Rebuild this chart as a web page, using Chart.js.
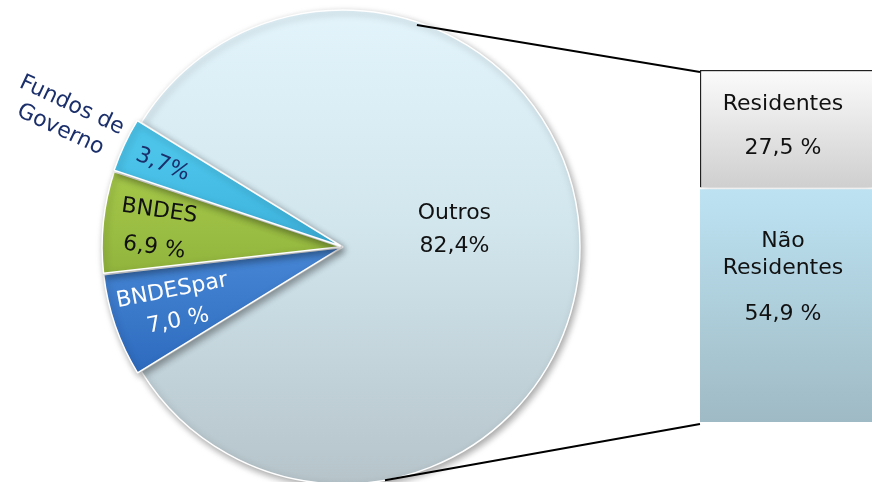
<!DOCTYPE html>
<html>
<head>
<meta charset="utf-8">
<script src="https://cdn.jsdelivr.net/npm/chart.js@4.4.1/dist/chart.umd.min.js"></script>
<style>
  html, body { margin: 0; padding: 0; background: #fff; }
  #wrap { position: relative; width: 872px; height: 482px; overflow: hidden; }
  #wrap canvas { position: absolute; left: 0; top: 0; }
</style>
</head>
<body>
<div id="wrap">
  <canvas id="pie" width="872" height="482"></canvas>
  <canvas id="bar" width="872" height="482"></canvas>
</div>
<script>
// Pie: order is clockwise from the Outros slice, small slices end up on the left.
const pieLabels = ['Outros', 'BNDESpar', 'BNDES', 'Fundos de Governo'];
const pieValues = [82.4, 7.0, 6.9, 3.7];
const pieTexts  = [['Outros', '82,4%'], ['BNDESpar', '7,0 %'], ['BNDES', '6,9 %'], ['3,7%']];
const pieOuterText = ['Fundos de', 'Governo'];

// Breakdown of Outros (stacked bar, bottom first)
const barLabels = ['Não Residentes', 'Residentes'];
const barValues = [54.9, 27.5];
const barTexts  = [['Não', 'Residentes', '54,9 %'], ['Residentes', '27,5 %']];

const FONT = '22px "DejaVu Sans", Verdana, sans-serif';
const PIE_RADIUS = 237;

// colour pairs (light, dark) per slice
const SLICE_COLOURS = [
  ['#e3f4fb', '#b6c4ca'],  // Outros
  ['#5a9ce6', '#2f6cc0'],  // BNDESpar
  ['#a9cc4c', '#7fa232'],  // BNDES
  ['#4cc4ea', '#2a9ccc'],  // Fundos
];
// label placement per slice: fraction of radius, dy, rotation (deg), colour, line height
const LABEL_STYLE = [
  { frac: 0.47, dy: -17, rot: 0,   color: '#111',    lh: 33 },
  { frac: 0.75, dy: 1,   rot: -11, color: '#fff',    lh: 31 },
  { frac: 0.79, dy: 2,   rot: 8,   color: '#111',    lh: 37 },
  { frac: 0.84, dy: 2,   rot: 22,  color: '#1b2f6b', lh: 0 },
];
const OUTER_STYLE = { frac: 1.29, dy: 0, rot: 25, color: '#1b2f6b', lh: 27 };

function sliceFill(ctx) {
  const c = SLICE_COLOURS[ctx.dataIndex];
  const area = ctx.chart.chartArea;
  if (!area) return c[1];
  const cy = (area.top + area.bottom) / 2;
  const g = ctx.chart.ctx.createLinearGradient(0, cy - PIE_RADIUS, 0, cy + PIE_RADIUS);
  if (ctx.dataIndex === 0) {
    g.addColorStop(0, c[0]);
    g.addColorStop(0.45, '#d2e6ee');
    g.addColorStop(1, c[1]);
  } else {
    g.addColorStop(0.3, c[0]);
    g.addColorStop(0.75, c[1]);
  }
  return g;
}

function drawLines(c, x, y, lines, st) {
  c.save();
  c.translate(x, y + st.dy);
  c.rotate(st.rot * Math.PI / 180);
  c.font = FONT;
  c.fillStyle = st.color;
  c.textAlign = 'center';
  c.textBaseline = 'middle';
  const top = -(lines.length - 1) * st.lh / 2;
  lines.forEach((t, i) => c.fillText(t, 0, top + i * st.lh));
  c.restore();
}

const shadowPlugin = {
  id: 'shadow',
  beforeDatasetsDraw(chart) {
    const c = chart.ctx;
    c.save();
    c.shadowColor = 'rgba(0,0,0,0.35)';
    c.shadowBlur = 7;
    c.shadowOffsetX = 2;
    c.shadowOffsetY = 3;
  },
  afterDatasetsDraw(chart) { chart.ctx.restore(); },
};

const pieLabelPlugin = {
  id: 'pieLabels',
  afterDraw(chart) {
    const c = chart.ctx;
    chart.getDatasetMeta(0).data.forEach((arc, i) => {
      const mid = (arc.startAngle + arc.endAngle) / 2;
      const st = LABEL_STYLE[i];
      const r = arc.outerRadius;
      drawLines(c, arc.x + Math.cos(mid) * r * st.frac, arc.y + Math.sin(mid) * r * st.frac, pieTexts[i], st);
      if (i === 3) {
        drawLines(c, arc.x + Math.cos(mid) * r * OUTER_STYLE.frac, arc.y + Math.sin(mid) * r * OUTER_STYLE.frac, pieOuterText, OUTER_STYLE);
      }
    });
  },
};

const pieChart = new Chart(document.getElementById('pie'), {
  type: 'pie',
  data: {
    labels: pieLabels,
    datasets: [{
      data: pieValues,
      backgroundColor: sliceFill,
      borderColor: '#fff',
      borderWidth: 1.5,
      offset: [0, 10, 10, 10],
      clip: false,
    }],
  },
  options: {
    responsive: false,
    animation: false,
    rotation: -58.3,
    radius: PIE_RADIUS,
    layout: { padding: { left: 0, right: 186, top: 12, bottom: 0 } },
    plugins: { legend: { display: false }, tooltip: { enabled: false } },
  },
  plugins: [shadowPlugin, pieLabelPlugin],
});

function barFill(ctx) {
  const y = ctx.chart.scales.y;
  const i = ctx.datasetIndex;
  const fallback = i ? '#e0e0e0' : '#b0d0dc';
  if (!y) return fallback;
  const start = barValues.slice(0, i).reduce((a, b) => a + b, 0);
  const p0 = y.getPixelForValue(start + barValues[i]);
  const p1 = y.getPixelForValue(start);
  if (!isFinite(p0) || !isFinite(p1)) return fallback;
  const g = ctx.chart.ctx.createLinearGradient(0, p0, 0, p1);
  if (i === 1) {
    g.addColorStop(0, '#fbfbfb');
    g.addColorStop(1, '#cfcfcf');
  } else {
    g.addColorStop(0, '#bde3f3');
    g.addColorStop(1, '#9fbac4');
  }
  return g;
}

const barTextPlugin = {
  id: 'barTexts',
  afterDraw(chart) {
    const c = chart.ctx;
    // connector lines from the pie to the breakdown bar
    const arc = pieChart.getDatasetMeta(0).data[0];
    const top = chart.getDatasetMeta(1).data[0];
    const bot = chart.getDatasetMeta(0).data[0];
    const left = top.x - top.width / 2;
    const a1 = (-90 + 18.4) * Math.PI / 180, a2 = (-90 + 169.8) * Math.PI / 180;
    c.save();
    c.strokeStyle = '#000';
    c.lineWidth = 2;
    c.beginPath();
    c.moveTo(arc.x + Math.cos(a1) * (arc.outerRadius - 3), arc.y + Math.sin(a1) * (arc.outerRadius - 3));
    c.lineTo(left, top.y + 2);
    c.moveTo(arc.x + Math.cos(a2) * arc.outerRadius, arc.y + Math.sin(a2) * arc.outerRadius);
    c.lineTo(left, bot.base + 2);
    c.stroke();
    c.restore();
    // texts inside each segment
    const specs = [
      { dy: -27, gaps: [0, 27, 73] },
      { dy: -2,  gaps: [0, 44] },
    ];
    chart.data.datasets.forEach((ds, i) => {
      const el = chart.getDatasetMeta(i).data[0];
      const cy = (el.y + el.base) / 2 + specs[i].dy;
      const g = specs[i].gaps;
      const y0 = cy - g[g.length - 1] / 2;
      c.save();
      c.font = FONT;
      c.fillStyle = '#111';
      c.textAlign = 'center';
      c.textBaseline = 'middle';
      barTexts[i].forEach((t, k) => c.fillText(t, el.x - 3, y0 + g[k]));
      c.restore();
    });
  },
};

new Chart(document.getElementById('bar'), {
  type: 'bar',
  data: {
    labels: ['Outros'],
    datasets: barLabels.map((lab, i) => ({
      label: lab,
      data: [barValues[i]],
      backgroundColor: barFill,
      borderColor: i === 1 ? '#222' : 'rgba(255,255,255,0.6)',
      borderWidth: i === 1 ? { left: 1.5, top: 1.5, right: 0, bottom: 0 } : { left: 0, top: 2, right: 0, bottom: 0 },
      borderSkipped: false,
      categoryPercentage: 1,
      barPercentage: 1,
    })),
  },
  options: {
    responsive: false,
    animation: false,
    layout: { padding: { left: 700, right: 0, top: 70, bottom: 60 } },
    scales: {
      x: { display: false, stacked: true },
      y: { display: false, stacked: true, min: 0, max: 82.4 },
    },
    plugins: { legend: { display: false }, tooltip: { enabled: false } },
  },
  plugins: [shadowPlugin, barTextPlugin],
});
</script>
</body>
</html>
